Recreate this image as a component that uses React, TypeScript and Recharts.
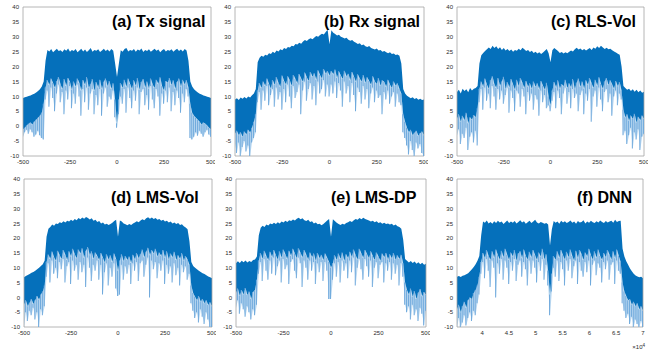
import { ComposedChart, Area, Bar, XAxis, YAxis, ReferenceArea } from 'recharts';

// frequency bins shared by panels (a)-(e), and the sample axis of (f) in units of 1e4
const freqBins = Array.from({ length: 101 }, (_, i) => -500 + i * 10);
const dnnBins = Array.from({ length: 101 }, (_, i) => +(3.53 + i * 0.0347).toFixed(4));

const yTicks = [-10, -5, 0, 5, 10, 15, 20, 25, 30, 35, 40];
const freqTicks = [-500, -250, 0, 250, 500];
const dnnTicks = [4, 4.5, 5, 5.5, 6, 6.5, 7];

// hi = top of spectrum, mid = bottom of dense band, lo = tips of the light dips (dB)
const txHi = [
  9.5, 9.7, 9.9, 10.1, 10.3, 10.6, 10.9, 11.3, 11.8, 12.4,
  13.3, 15.0, 22.0, 25.6, 25.1, 25.9, 24.8, 25.4, 26.0, 25.2,
  25.5, 24.9, 25.8, 25.3, 26.1, 25.0, 25.6, 25.2, 25.9, 24.8,
  25.4, 26.0, 25.1, 25.7, 24.9, 25.5, 26.2, 25.0, 25.6, 25.3,
  25.8, 24.9, 25.4, 26.0, 25.2, 25.7, 25.1, 25.9, 25.3, 21.0,
  16.5, 21.0, 25.5, 25.0, 25.9, 26.2, 25.1, 25.6, 25.3, 25.9,
  25.0, 25.7, 25.4, 26.1, 24.9, 25.6, 25.2, 25.8, 25.0, 25.5,
  26.0, 25.3, 25.7, 24.8, 25.5, 25.9, 25.1, 25.6, 25.3, 25.8,
  25.0, 25.6, 26.0, 25.2, 25.7, 25.1, 25.9, 25.4, 22.0, 15.0,
  13.3, 12.4, 11.8, 11.3, 10.9, 10.6, 10.3, 10.1, 9.9, 9.7,
  9.5,
];
const txMid = [
  -1.0, -0.5, 0.2, 0.8, 1.2, 0.6, 1.5, 2.2, 2.8, 3.5,
  4.5, 7.5, 13.0, 15.5, 13.8, 16.0, 14.5, 12.8, 15.2, 16.5,
  14.0, 12.5, 15.8, 13.5, 16.2, 14.8, 12.2, 15.0, 13.2, 16.0,
  14.5, 12.0, 15.5, 13.8, 16.5, 12.8, 14.2, 15.8, 11.8, 14.8,
  13.0, 15.6, 12.4, 14.9, 16.0, 13.4, 15.2, 12.6, 14.4, 9.0,
  1.0, 9.0, 14.5, 12.8, 15.6, 13.2, 16.0, 14.2, 12.4, 15.4,
  13.6, 16.2, 12.2, 14.8, 15.8, 13.0, 15.0, 12.6, 16.0, 14.0,
  12.8, 15.6, 14.2, 16.4, 13.4, 12.0, 15.2, 14.6, 16.2, 13.8,
  15.4, 12.6, 14.8, 16.0, 13.2, 15.6, 14.0, 15.5, 13.0, 7.5,
  4.5, 3.5, 2.8, 2.2, 1.5, 0.6, 1.2, 0.8, 0.2, -0.5,
  -1.0,
];
const txLo = [
  -3.5, -2.0, -1.2, -2.5, -1.0, -2.0, -3.5, -2.8, -1.5, -3.0,
  -4.0, -4.5, 9.0, 12.0, 6.5, 13.0, 9.5, 5.0, 11.0, 14.0,
  8.0, 11.5, 4.0, 12.0, 9.0, 13.5, 6.0, 11.0, 7.5, 14.0,
  10.0, 3.5, 12.5, 8.0, 13.0, 5.5, 11.0, 12.5, 4.0, 10.5,
  7.0, 12.5, 3.5, 11.0, 13.0, 6.5, 10.0, 9.0, 12.0, 3.0,
  -0.5, 4.0, 10.0, 7.5, 12.5, 4.5, 13.0, 9.5, 6.0, 12.0,
  8.5, 13.0, 4.0, 11.5, 12.5, 7.0, 10.5, 5.5, 13.5, 9.0,
  6.0, 12.5, 10.0, 3.5, 11.0, 7.5, 12.0, 8.0, 13.0, 5.0,
  11.5, 7.0, 12.0, 9.5, 4.5, 11.0, 8.0, 12.5, 10.0, -4.0,
  -4.5, -3.5, -2.0, -3.2, -1.5, -2.5, -3.5, -2.0, -1.2, -2.8,
  -3.5,
];

const rxHi = [
  9.0, 9.4, 8.8, 9.6, 9.2, 9.8, 9.3, 10.0, 9.6, 10.4,
  11.0, 12.5, 21.5, 23.0, 23.6, 23.3, 24.0, 23.7, 24.5, 24.2,
  25.0, 24.6, 25.4, 25.1, 25.8, 25.5, 26.2, 25.9, 26.6, 26.4,
  27.0, 26.8, 27.6, 27.4, 28.0, 27.7, 28.4, 28.9, 28.6, 29.2,
  29.5, 29.2, 29.8, 30.3, 30.0, 30.6, 31.0, 30.8, 31.6, 32.4,
  27.5, 32.2, 31.4, 30.9, 30.4, 30.7, 30.0, 29.8, 29.4, 29.7,
  29.0, 28.7, 28.9, 28.3, 28.0, 27.6, 27.8, 27.2, 27.4, 26.8,
  26.6, 26.9, 26.2, 26.0, 25.7, 26.1, 25.4, 25.6, 25.0, 25.2,
  24.8, 24.5, 24.8, 24.2, 24.4, 23.9, 24.1, 23.6, 21.0, 12.5,
  11.0, 10.2, 9.8, 9.4, 9.7, 9.1, 9.5, 8.9, 9.2, 8.8,
  9.0,
];
const rxMid = [
  -2.5, -1.5, -3.0, -2.0, -3.5, -1.8, -2.8, -1.2, -2.2, -0.5,
  1.5, 4.0, 12.0, 14.5, 12.8, 15.0, 13.5, 16.0, 14.2, 12.6,
  15.5, 13.8, 16.5, 14.6, 13.2, 17.0, 15.2, 14.0, 16.8, 15.4,
  13.6, 17.2, 15.8, 14.4, 17.5, 16.0, 14.8, 18.0, 16.4, 15.2,
  18.2, 16.6, 17.8, 15.6, 18.8, 17.2, 16.0, 19.2, 17.6, 18.5,
  17.0, 18.5, 17.4, 19.0, 16.2, 18.4, 17.0, 15.8, 18.6, 16.8,
  17.6, 15.4, 18.2, 16.6, 14.8, 17.4, 16.0, 15.0, 17.2, 14.6,
  16.4, 15.2, 13.8, 16.8, 15.0, 14.2, 16.2, 13.6, 15.4, 14.8,
  13.2, 15.6, 14.0, 12.8, 15.0, 13.6, 14.4, 12.6, 11.0, 4.0,
  1.5, -0.5, -2.0, -1.2, -3.0, -2.2, -1.5, -3.2, -2.4, -1.8,
  -3.0,
];
const rxLo = [
  -6.0, -9.0, -5.5, -10.0, -7.0, -5.0, -8.5, -6.5, -10.0, -5.5,
  -4.0, -2.0, 8.0, 11.5, 5.5, 12.0, 8.5, 13.5, 7.0, 10.5,
  12.5, 6.5, 13.0, 9.0, 11.5, 5.5, 12.5, 8.0, 14.0, 10.0,
  6.0, 13.5, 9.5, 11.5, 14.0, 4.0, 12.0, 15.0, 8.5, 12.5,
  14.5, 9.0, 13.5, 7.0, 15.0, 11.0, 12.5, 15.5, 10.0, 14.0,
  10.0, 14.0, 11.0, 15.0, 9.5, 14.5, 12.0, 6.5, 15.0, 11.0,
  13.5, 8.0, 14.5, 10.5, 5.0, 13.0, 11.5, 7.5, 13.5, 9.0,
  12.5, 6.0, 11.0, 13.0, 8.0, 12.0, 9.5, 10.5, 4.0, 11.5,
  9.0, 12.0, 7.5, 10.0, 11.5, 6.5, 11.0, 8.0, 7.0, -2.0,
  -4.0, -6.5, -9.5, -5.0, -8.0, -10.0, -5.5, -7.5, -6.0, -9.0,
  -10.0,
];

const rlsHi = [
  11.5, 12.2, 11.0, 12.6, 11.8, 12.4, 11.4, 12.8, 12.0, 12.6,
  12.8, 13.5, 21.0, 23.8, 24.6, 25.2, 25.8, 26.4, 25.9, 27.0,
  26.2, 26.8, 25.9, 26.5, 25.6, 26.2, 25.4, 25.9, 25.2, 25.7,
  25.0, 25.6, 25.3, 26.0, 25.5, 26.3, 25.8, 25.2, 25.6, 24.9,
  25.3, 24.6, 25.0, 24.4, 24.8, 24.2, 24.7, 25.3, 25.9, 24.5,
  21.5, 25.5, 26.2, 25.7, 25.2, 24.6, 24.9, 24.4, 24.8, 24.5,
  25.0, 25.4, 25.1, 25.8, 26.3, 25.7, 26.1, 25.5, 25.9, 25.4,
  25.8, 26.2, 25.6, 26.4, 26.0, 26.8, 26.2, 27.0, 26.4, 25.9,
  26.3, 25.8, 26.0, 25.5, 25.1, 24.7, 24.3, 24.0, 20.0, 13.5,
  12.8, 12.2, 12.6, 11.8, 12.4, 11.6, 12.2, 11.4, 12.0, 11.2,
  11.6,
];
const rlsMid = [
  2.5, 4.0, 1.5, 3.5, 2.0, 4.5, 1.0, 3.0, 2.2, 3.8,
  3.0, 6.0, 12.5, 15.0, 13.2, 16.0, 14.0, 12.6, 15.4, 16.8,
  14.2, 12.8, 16.2, 13.6, 15.0, 16.6, 12.4, 14.8, 13.0, 15.8,
  14.0, 12.2, 15.6, 13.4, 16.2, 14.6, 12.8, 15.2, 13.2, 14.4,
  12.6, 15.0, 13.2, 14.4, 12.4, 15.2, 13.6, 12.2, 14.6, 10.0,
  7.0, 12.0, 14.8, 13.0, 15.4, 12.6, 14.2, 13.4, 15.6, 12.8,
  14.4, 13.0, 15.8, 12.4, 14.6, 16.0, 13.2, 15.0, 12.6, 15.4,
  13.8, 16.2, 14.4, 12.8, 15.6, 13.6, 16.4, 14.2, 12.6, 15.0,
  16.2, 13.8, 15.4, 14.0, 12.6, 15.2, 13.4, 14.8, 12.0, 5.5,
  3.0, 4.0, 1.8, 3.6, 2.4, 4.2, 1.2, 3.2, 2.0, 3.6,
  2.4,
];
const rlsLo = [
  -3.0, -1.0, -6.0, -2.5, -4.0, -0.5, -8.0, -3.5, -2.0, -5.5,
  -1.5, -6.5, 8.0, 12.5, 5.5, 13.0, 8.5, 11.0, 6.0, 13.5,
  10.0, 5.5, 12.5, 9.0, 12.0, 7.5, 10.5, 13.0, 4.5, 12.0,
  9.5, 5.0, 12.0, 11.0, 6.5, 12.5, 10.0, 4.0, 11.5, 8.5,
  11.0, 5.5, 10.5, 9.0, 3.5, 12.0, 8.0, 10.5, 6.0, 7.0,
  5.0, 8.5, 11.5, 6.0, 12.0, 9.5, 4.0, 11.0, 13.0, 7.5,
  11.5, 6.0, 12.5, 9.5, 11.0, 5.0, 10.5, 12.0, 4.0, 11.0,
  8.5, 12.5, 1.5, 10.0, 12.0, 6.5, 13.0, 9.0, 5.0, 11.5,
  12.5, 8.0, 11.0, 3.5, 10.0, 12.0, 7.0, 11.0, 9.0, -3.0,
  -1.5, -6.0, -3.0, -0.5, -7.5, -2.0, -4.5, -1.0, -8.0, -3.5,
  -2.5,
];

const lmsVolHi = [
  6.8, 7.2, 7.6, 7.9, 8.3, 8.6, 9.0, 9.5, 10.0, 10.6,
  11.2, 12.5, 20.5, 23.2, 23.8, 24.6, 24.2, 25.0, 24.8, 25.4,
  25.1, 25.7, 25.3, 25.9, 25.6, 26.2, 25.8, 26.5, 26.1, 26.8,
  26.4, 27.0, 26.6, 27.2, 26.8, 26.3, 26.7, 25.9, 26.2, 25.5,
  25.8, 25.0, 25.3, 24.6, 24.9, 24.5, 24.8, 25.2, 25.8, 26.2,
  20.5, 26.0, 25.6, 25.0, 24.7, 24.4, 24.8, 24.5, 25.0, 25.3,
  25.7, 25.4, 26.0, 26.4, 26.1, 26.7, 27.1, 26.6, 27.0, 26.5,
  26.8, 26.2, 26.5, 25.9, 26.2, 25.6, 25.9, 25.3, 25.6, 25.0,
  25.3, 24.8, 25.1, 24.5, 24.7, 24.0, 23.6, 23.0, 19.0, 12.0,
  10.6, 10.0, 9.5, 9.0, 8.6, 8.2, 7.9, 7.5, 7.1, 6.8,
  6.5,
];
const lmsVolMid = [
  -2.5, -1.0, -3.0, -1.8, -0.5, -2.2, -1.0, 0.5, -0.8, 1.0,
  2.0, 4.0, 12.0, 14.5, 13.0, 15.5, 13.6, 12.4, 15.8, 14.2,
  13.0, 16.0, 14.4, 12.6, 15.6, 13.8, 16.4, 14.6, 13.2, 16.2,
  14.8, 16.6, 13.4, 15.8, 17.0, 14.2, 15.6, 13.0, 15.2, 14.0,
  12.6, 15.0, 13.4, 11.8, 14.6, 12.8, 14.2, 12.0, 14.8, 13.0,
  9.0, 12.5, 14.6, 12.2, 14.0, 12.6, 13.8, 11.6, 14.4, 12.8,
  15.0, 13.2, 14.6, 16.2, 13.6, 15.4, 16.8, 14.2, 16.0, 14.8,
  16.4, 13.8, 15.2, 14.0, 16.0, 13.4, 15.6, 12.8, 14.8, 13.6,
  15.4, 12.6, 14.2, 13.0, 15.0, 12.4, 14.0, 12.8, 11.0, 4.0,
  1.5, 0.2, -1.0, 0.5, -1.5, -0.5, -2.0, -1.0, -2.6, -1.6,
  -3.0,
];
const lmsVolLo = [
  -10.0, -5.0, -8.0, -4.5, -6.0, -3.5, -7.5, -5.0, -10.0, -4.0,
  -6.0, -3.0, 7.0, 11.5, 5.0, 12.5, 8.0, 10.0, 6.5, 12.0,
  9.5, 13.0, 5.0, 10.5, 12.0, 4.5, 12.5, 9.0, 11.0, 6.0,
  12.0, 8.5, 11.0, 3.5, 13.5, 10.0, 5.5, 11.0, 9.0, 12.5,
  6.0, 11.0, 1.0, 8.5, 11.5, 4.0, 10.0, 7.0, 11.5, 3.0,
  0.5, 1.0, 11.0, 6.0, 10.5, 8.0, 11.0, 4.5, 11.5, 9.0,
  12.0, 5.5, 11.5, 12.5, 7.0, 11.0, 13.5, 0.0, 12.5, 9.5,
  12.0, 6.5, 11.5, 9.0, 12.5, 4.5, 11.0, 8.0, 10.5, 5.0,
  11.5, 7.5, 10.0, 4.0, 11.0, 8.5, 10.5, 6.0, 8.0, -2.0,
  -4.5, -7.0, -5.0, -8.5, -4.0, -6.5, -9.0, -5.0, -7.5, -10.0,
  -10.0,
];

const lmsDpHi = [
  11.5, 12.2, 11.6, 12.4, 11.9, 12.5, 11.8, 12.3, 12.0, 12.6,
  12.8, 13.8, 21.0, 23.5, 24.2, 23.8, 24.6, 24.3, 25.0, 24.7,
  25.2, 24.8, 25.4, 25.0, 25.6, 25.3, 25.9, 25.5, 26.1, 25.8,
  26.3, 26.0, 26.6, 26.9, 26.4, 26.7, 26.1, 25.8, 26.2, 25.5,
  25.7, 25.0, 25.3, 24.7, 24.9, 24.4, 24.8, 25.4, 26.0, 26.5,
  20.5, 26.4, 25.8, 25.2, 24.8, 24.5, 24.9, 24.6, 25.1, 25.4,
  25.8, 25.5, 26.1, 26.5, 26.2, 26.8, 26.4, 26.9, 26.5, 26.2,
  26.0, 25.6, 25.9, 25.4, 25.7, 25.1, 25.4, 24.9, 25.2, 24.8,
  25.0, 24.6, 24.9, 24.3, 24.6, 24.0, 23.8, 23.2, 19.5, 13.0,
  12.4, 11.8, 12.3, 11.6, 12.1, 11.4, 11.9, 11.2, 11.7, 11.0,
  11.4,
];
const lmsDpMid = [
  1.5, 3.0, 0.5, 2.5, 1.0, 3.2, 0.8, 2.0, -0.5, 1.8,
  2.5, 6.0, 12.5, 15.0, 13.0, 15.8, 14.0, 12.6, 15.4, 13.6,
  16.0, 14.2, 12.8, 15.6, 13.4, 16.2, 14.6, 13.0, 15.8, 14.0,
  16.4, 14.8, 13.2, 16.6, 15.0, 13.6, 16.0, 14.4, 12.8, 15.2,
  13.6, 14.8, 12.4, 15.0, 13.2, 14.4, 12.6, 14.8, 13.4, 12.0,
  10.0, 11.5, 14.2, 12.6, 14.8, 13.0, 15.2, 12.4, 14.6, 13.2,
  15.4, 13.6, 16.2, 14.2, 12.8, 16.4, 14.8, 13.4, 16.0, 14.6,
  13.2, 15.6, 14.0, 12.6, 15.2, 13.8, 12.4, 14.8, 13.6, 15.0,
  12.8, 14.6, 13.2, 15.0, 12.6, 14.2, 13.0, 14.4, 11.5, 5.0,
  2.5, 1.0, 3.0, 0.2, 2.2, -0.5, 1.6, 2.8, 0.4, 1.8,
  0.8,
];
const lmsDpLo = [
  -3.5, -1.0, -5.5, -2.0, -4.0, -6.5, -3.0, -5.0, -7.5, -4.0,
  -6.0, -2.5, 8.0, 12.0, 5.5, 13.0, 9.0, 6.0, 12.5, 8.0,
  13.5, 7.5, 10.5, 12.5, 5.0, 13.0, 9.5, 11.0, 4.5, 12.0,
  13.0, 9.0, 6.5, 13.5, 11.5, 3.5, 12.5, 10.0, 6.0, 12.5,
  9.0, 12.0, 4.5, 11.5, 8.5, 12.0, 5.5, 12.0, 9.0, -0.5,
  -0.5, 6.0, 11.5, 7.0, 12.0, 5.0, 12.5, 9.0, 11.5, 6.5,
  12.5, 8.5, 13.5, 4.0, 10.0, 13.0, 9.5, 6.0, 13.0, 10.5,
  7.0, 12.5, 3.5, 10.0, 12.0, 6.5, 11.0, 12.0, 5.0, 11.5,
  9.0, 12.0, 6.0, 11.5, 8.0, 11.0, 4.0, 11.5, 7.0, -2.5,
  -5.0, -3.0, -7.5, -2.5, -6.0, -4.0, -8.0, -3.5, -5.5, -9.5,
  -4.5,
];

const dnnHi = [
  7.0, 7.2, 6.9, 7.3, 7.5, 7.8, 8.2, 8.8, 9.5, 10.3,
  11.2, 12.4, 14.0, 21.0, 25.6, 25.2, 26.0, 25.0, 25.5, 24.9,
  25.7, 25.1, 25.9, 25.3, 25.6, 24.8, 25.4, 26.0, 25.1, 25.6,
  25.2, 25.8, 25.0, 25.5, 26.1, 25.3, 25.7, 24.9, 25.4, 25.9,
  25.1, 25.6, 26.2, 25.3, 25.0, 25.5, 25.2, 24.9, 25.1, 24.6,
  17.5, 23.0, 25.8, 25.2, 25.6, 24.9, 25.9, 25.3, 25.7, 25.1,
  25.5, 26.0, 25.2, 25.6, 24.9, 25.8, 25.3, 25.5, 26.1, 25.0,
  25.6, 25.2, 25.9, 25.4, 25.1, 25.7, 25.3, 26.0, 25.5, 25.1,
  25.8, 25.3, 25.6, 25.9, 25.2, 26.2, 25.5, 25.8, 25.9, 16.5,
  13.8, 12.2, 11.0, 9.8, 8.8, 8.0, 7.4, 7.1, 6.8, 7.0,
  6.5,
];
const dnnMid = [
  -4.0, -2.5, -5.0, -3.0, -1.5, -3.5, -1.0, 0.0, -0.5, 1.5,
  2.5, 4.0, 7.0, 12.0, 15.0, 13.2, 16.0, 14.0, 12.6, 15.6,
  13.4, 16.2, 14.2, 12.8, 15.8, 13.6, 16.4, 14.4, 12.6, 15.2,
  13.8, 16.0, 12.4, 14.8, 15.6, 13.2, 16.2, 14.0, 12.8, 15.4,
  13.6, 16.0, 14.2, 12.6, 15.2, 13.8, 16.4, 12.8, 14.6, 9.0,
  1.0, 8.0, 14.0, 12.6, 15.6, 13.4, 16.0, 14.2, 12.8, 15.4,
  13.6, 16.2, 14.0, 12.4, 15.8, 13.2, 16.0, 14.6, 12.6, 15.2,
  13.8, 16.4, 14.2, 12.8, 15.6, 13.4, 16.2, 14.0, 12.6, 15.0,
  13.6, 16.0, 14.4, 12.8, 15.6, 13.2, 16.2, 14.0, 12.0, 5.0,
  2.0, 0.5, -1.0, -0.5, -2.5, -1.5, -3.0, -2.0, -4.0, -3.0,
  -4.5,
];
const dnnLo = [
  -10.0, -7.0, -10.0, -8.5, -6.0, -9.5, -7.0, -5.0, -8.0, -4.5,
  -6.0, -2.0, 1.0, 8.0, 12.0, 6.5, 13.0, 9.0, 3.5, 12.5,
  10.0, 0.0, 11.5, 8.0, 13.0, 6.0, 12.5, 10.0, 4.5, 12.0,
  9.0, 13.0, 5.5, 11.0, 12.5, 7.0, 12.0, 9.5, 4.0, 12.5,
  8.0, 12.5, 10.0, 5.0, 12.0, 9.0, 13.0, 6.0, 11.0, 4.0,
  -6.0, 2.0, 10.0, 7.0, 12.5, 5.5, 12.0, 9.5, 4.0, 12.5,
  9.0, 13.0, 6.5, 10.5, 12.5, 4.5, 12.0, 9.0, 7.0, 12.0,
  8.5, 12.5, 4.0, 11.0, 12.5, 7.5, 11.5, 10.0, 5.0, 12.0,
  9.5, 12.5, 6.0, 11.0, 12.0, 4.5, 12.5, 9.0, 8.0, -2.0,
  -4.5, -7.0, -5.5, -9.0, -6.5, -10.0, -7.5, -9.0, -10.0, -8.0,
  -10.0,
];

const DARK = '#0570bb';
const PALE = '#bcd9f1';
const LIGHT = '#6fa9dc';
const FONT = '"Liberation Sans", Arial, sans-serif';

type Row = { x: number; hi: number; mid: number; lo: number };

function toRows(xs: number[], hi: number[], mid: number[], lo: number[]): Row[] {
  return xs.map((x, i) => ({ x, hi: hi[i], mid: mid[i], lo: Math.min(lo[i], mid[i]) }));
}

const Y_W = 22;
const PAD_T = 4;
const PAD_R = 4;
const X_H = 14;

interface PanelProps {
  plot: [number, number, number, number]; // left, top, right, bottom of the plot box
  rows: Row[];
  domain: [number, number];
  ticks: number[];
}

function Panel({ plot, rows, domain, ticks }: PanelProps) {
  const [l, t, r, b] = plot;
  const tick = { fill: '#2a2a2a', fontSize: 6, fontFamily: FONT };
  return (
    <div style={{ position: 'absolute', left: l - Y_W, top: t - PAD_T }}>
      <ComposedChart
        width={r - l + Y_W + PAD_R}
        height={b - t + PAD_T + X_H}
        data={rows}
        margin={{ top: PAD_T, right: PAD_R, left: 0, bottom: 0 }}
      >
        <XAxis
          dataKey="x"
          type="number"
          domain={domain}
          ticks={ticks}
          allowDataOverflow
          axisLine={false}
          tickLine={false}
          tickSize={0}
          tickMargin={4}
          height={X_H}
          interval={0}
          tick={tick}
        />
        <YAxis
          type="number"
          domain={[-10, 40]}
          ticks={yTicks}
          allowDataOverflow
          axisLine={false}
          tickLine={false}
          tickSize={0}
          tickMargin={4}
          width={Y_W}
          interval={0}
          tick={tick}
        />
        <Area
          type="linear"
          dataKey={(d: Row) => [d.lo, d.mid]}
          stroke="none"
          fill={PALE}
          fillOpacity={1}
          isAnimationActive={false}
        />
        <Bar
          dataKey={(d: Row) => [d.lo, d.mid]}
          fill={LIGHT}
          barSize={1}
          isAnimationActive={false}
        />
        <Area
          type="linear"
          dataKey={(d: Row) => [d.mid, d.hi]}
          stroke="none"
          fill={DARK}
          fillOpacity={1}
          isAnimationActive={false}
        />
        <ReferenceArea
          x1={domain[0]}
          x2={domain[1]}
          y1={-10}
          y2={40}
          fill="none"
          stroke="#a3a3a3"
          strokeWidth={0.8}
          ifOverflow="visible"
        />
      </ComposedChart>
    </div>
  );
}

const titles = [
  { text: '(a) Tx signal', x: 112, y: 27 },
  { text: '(b) Rx signal', x: 324, y: 27 },
  { text: '(c) RLS-Vol', x: 551, y: 27 },
  { text: '(d) LMS-Vol', x: 111, y: 202.5 },
  { text: '(e) LMS-DP', x: 331, y: 202.5 },
  { text: '(f) DNN', x: 577, y: 202.5 },
];

export default function App() {
  const freq: [number, number] = [-500, 500];
  return (
    <div style={{ position: 'absolute', left: 0, top: 0, width: 653, height: 352, background: '#fff', overflow: 'hidden' }}>
      <Panel plot={[23, 7, 211, 156]} rows={toRows(freqBins, txHi, txMid, txLo)} domain={freq} ticks={freqTicks} />
      <Panel plot={[235, 7, 424, 156]} rows={toRows(freqBins, rxHi, rxMid, rxLo)} domain={freq} ticks={freqTicks} />
      <Panel plot={[457, 7, 644, 156]} rows={toRows(freqBins, rlsHi, rlsMid, rlsLo)} domain={freq} ticks={freqTicks} />
      <Panel plot={[24, 179, 212, 327]} rows={toRows(freqBins, lmsVolHi, lmsVolMid, lmsVolLo)} domain={freq} ticks={freqTicks} />
      <Panel plot={[236, 179, 426, 327]} rows={toRows(freqBins, lmsDpHi, lmsDpMid, lmsDpLo)} domain={freq} ticks={freqTicks} />
      <Panel plot={[457, 179, 643, 327]} rows={toRows(dnnBins, dnnHi, dnnMid, dnnLo)} domain={[3.53, 7]} ticks={dnnTicks} />
      <svg width={653} height={352} style={{ position: 'absolute', left: 0, top: 0, pointerEvents: 'none' }}>
        {titles.map((t) => (
          <text key={t.text} x={t.x} y={t.y} fontFamily={FONT} fontWeight="bold" fontSize={16} fill="#000">
            {t.text}
          </text>
        ))}
        <text x={645} y={349} textAnchor="end" fontFamily={FONT} fontSize={6} fill="#2a2a2a">
          ×10<tspan dy={-2.5} fontSize={4.5}>4</tspan>
        </text>
      </svg>
    </div>
  );
}
